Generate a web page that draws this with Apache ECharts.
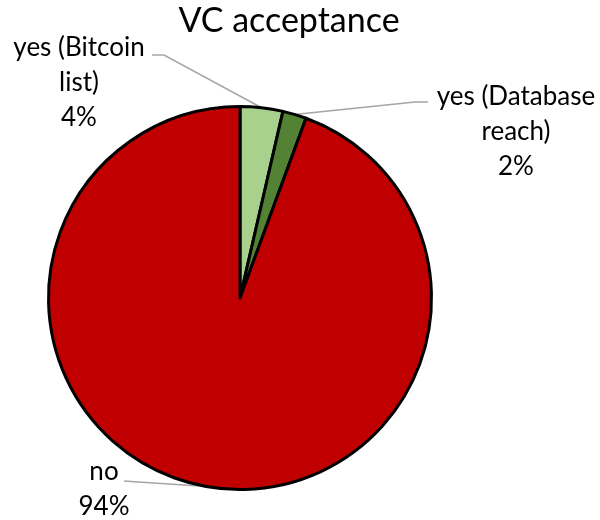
<!DOCTYPE html>
<html>
<head>
<meta charset="utf-8">
<script src="https://cdn.jsdelivr.net/npm/echarts@6/dist/echarts.min.js"></script>
<style>html,body{margin:0;padding:0;background:#fff}#c{width:600px;height:520px}</style>
</head>
<body>
<div id="c"></div>
<script>
const categories = ['yes (Bitcoin\nlist)', 'yes (Database\nreach)', 'no'];
const values = [3.6, 2.0, 94.4];
const colors = ['#a9d18e', '#548235', '#c00000'];

// label layout (positions of label text and leader-line elbows)
const labelPos = [
  {x: 79, y: 83, elbow: [164, 55], end: [152, 55]},
  {x: 516, y: 132, elbow: [415, 102], end: [428, 102]},
  {x: 104, y: 489, elbow: [131, 481.5], end: [124, 481]}
];

const total = values.reduce((a, b) => a + b, 0);

const chart = echarts.init(document.getElementById('c'));
chart.setOption({
  animation: false,
  title: {
    text: 'VC acceptance',
    left: 284,
    textAlign: 'center',
    top: -1,
    textStyle: {fontFamily: 'Lato', fontSize: 34, fontWeight: 'normal', color: '#000'}
  },
  series: [{
    type: 'pie',
    center: [240, 298],
    radius: 191.5,
    startAngle: 90,
    clockwise: true,
    data: categories.map((c, i) => ({name: c, value: values[i], itemStyle: {color: colors[i]}})),
    itemStyle: {borderColor: '#000', borderWidth: 3},
    label: {
      show: true,
      position: 'outside',
      fontFamily: 'Lato',
      fontSize: 26,
      lineHeight: 35,
      color: '#000',
      align: 'center',
      overflow: 'none',
      formatter: p => p.name + '\n' + Math.round(values[p.dataIndex] / total * 100) + '%'
    },
    labelLine: {show: true, lineStyle: {color: '#a6a6a6', width: 1.5}},
    labelLayout: function (params) {
      const lp = labelPos[params.dataIndex];
      const p0 = params.labelLinePoints ? params.labelLinePoints[0] : lp.elbow;
      return {
        x: lp.x, y: lp.y,
        align: 'center', verticalAlign: 'middle',
        labelLinePoints: [p0, lp.elbow, lp.end]
      };
    },
    emphasis: {disabled: true}
  }]
});
</script>
</body>
</html>
